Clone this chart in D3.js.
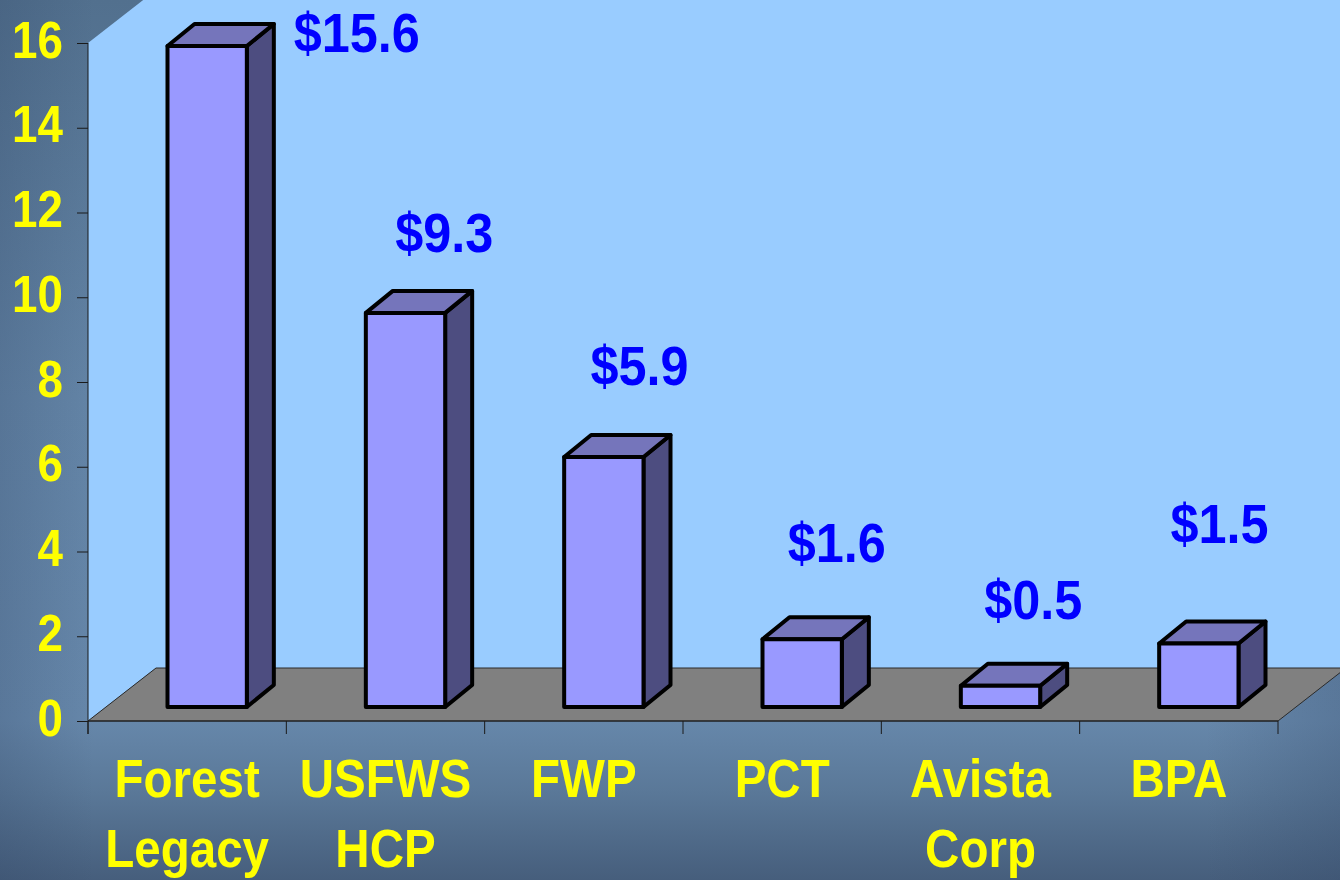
<!DOCTYPE html>
<html>
<head>
<meta charset="utf-8">
<script src="https://cdn.jsdelivr.net/npm/d3@7"></script>
<style>
  body { margin: 0; background: #5a7898; }
  svg { display: block; }
  text { font-family: "Liberation Sans", Arial, sans-serif; font-weight: bold; }
</style>
</head>
<body>
<svg id="chart" width="1340" height="880"></svg>
<script>
// chart data
const names = ["Forest Legacy", "USFWS HCP", "FWP", "PCT", "Avista Corp", "BPA"];
const amounts = [15.6, 9.3, 5.9, 1.6, 0.5, 1.5];
const amountLabels = ["$15.6", "$9.3", "$5.9", "$1.6", "$0.5", "$1.5"];
const yTicks = [0, 2, 4, 6, 8, 10, 12, 14, 16];

// label placement, px from the top-right front corner of each bar (set by hand in the original)
const labelOffsets = [[110, 6], [-1, -61], [-4, -72], [-5, -77], [-7, -67], [-19, -100]];

const svg = d3.select("#chart");
const width = +svg.attr("width");
const height = +svg.attr("height");

const x = d3.scaleBand().domain(names).range([88, 1278]).padding(0);
const y = d3.scaleLinear().domain([0, 16]).range([721, 43]);

const floorDepth = [68, -53];   // depth of the 3d floor / walls
const barShift = [20, -14];     // front of bars sits a little into the floor
const barDepth = [27, -22];
const barW = x.bandwidth() * 0.4;
const textSqueeze = 0.88;       // the original type is narrow

// background
const defs = svg.append("defs");
const vg = defs.append("linearGradient").attr("id", "bgV").attr("x1", 0).attr("y1", 0).attr("x2", 0).attr("y2", 1);
[[0, "#52708e"], [0.45, "#6384a6"], [0.82, "#6687aa"], [0.9, "#5a7898"], [1, "#465e7c"]]
  .forEach(([o, c]) => vg.append("stop").attr("offset", o).attr("stop-color", c));
const hg = defs.append("linearGradient").attr("id", "bgH").attr("x1", 0).attr("y1", 0).attr("x2", 1).attr("y2", 0);
[[0, 0.22], [0.07, 0], [0.9, 0], [1, 0.22]]
  .forEach(([o, a]) => hg.append("stop").attr("offset", o).attr("stop-color", "#2c4060").attr("stop-opacity", a));

svg.append("rect").attr("width", width).attr("height", height).attr("fill", "url(#bgV)");
svg.append("rect").attr("width", width).attr("height", height).attr("fill", "url(#bgH)");

// walls
const x0 = x.range()[0], x1 = x.range()[1];
const yTop = y(16), yBase = y(0);
const [fdx, fdy] = floorDepth;
const line = d3.line();

svg.append("path")
  .attr("d", line([[x0, yTop], [x0 + fdx, yTop + fdy], [x0 + fdx, yBase + fdy], [x0, yBase]]) + "Z")
  .attr("fill", "#99ccff");
svg.append("path")
  .attr("d", line([[x0 + fdx, yTop + fdy - 20], [x1 + fdx, yTop + fdy - 20], [x1 + fdx, yBase + fdy], [x0 + fdx, yBase + fdy]]) + "Z")
  .attr("fill", "#99ccff");

// floor
svg.append("path")
  .attr("d", line([[x0, yBase], [x1, yBase], [x1 + fdx, yBase + fdy], [x0 + fdx, yBase + fdy]]) + "Z")
  .attr("fill", "#808080")
  .attr("stroke", "#2a2a2a")
  .attr("stroke-width", 1);

// axes
const yAxis = svg.append("g").attr("transform", `translate(${x0},0)`)
  .call(d3.axisLeft(y).tickValues(yTicks).tickSize(11).tickFormat(""));
yAxis.select(".domain").attr("d", `M0,${yTop}V${yBase + 13}`);
yAxis.selectAll("line, path").attr("stroke", "#1a1a1a");

yAxis.selectAll(".tick").append("g")
  .attr("transform", `translate(-25,14) scale(${textSqueeze},1)`)
  .append("text")
  .attr("text-anchor", "end")
  .attr("fill", "#ffff00")
  .attr("font-size", 52)
  .text(d => d);

const xAxis = svg.append("g").attr("transform", `translate(0,${yBase})`);
xAxis.append("line").attr("x1", x0).attr("x2", x1).attr("stroke", "#1a1a1a");
xAxis.selectAll(".cut")
  .data(names.map(n => x(n)).concat([x1]))
  .join("line")
  .attr("x1", d => d).attr("x2", d => d)
  .attr("y1", 0).attr("y2", 13)
  .attr("stroke", "#1a1a1a");

const catLabels = xAxis.selectAll(".cat")
  .data(names)
  .join("g")
  .attr("transform", d => `translate(${x(d) + x.bandwidth() / 2},76) scale(${textSqueeze},1)`)
  .append("text")
  .attr("text-anchor", "middle")
  .attr("fill", "#ffff00")
  .attr("font-size", 54);
catLabels.selectAll("tspan")
  .data(d => d.split(" "))
  .join("tspan")
  .attr("x", 0)
  .attr("dy", (d, i) => (i === 0 ? 0 : 70))
  .text(d => d);

// bars
const bars = names.map((n, i) => {
  const left = x(n) + (x.bandwidth() - barW) / 2 + barShift[0];
  const right = left + barW;
  const top = y(amounts[i]) + barShift[1];
  const bottom = yBase + barShift[1];
  return { left, right, top, bottom, i };
});
const [bdx, bdy] = barDepth;

const barG = svg.append("g").selectAll("g").data(bars).join("g")
  .attr("stroke", "#000")
  .attr("stroke-width", 4)
  .attr("stroke-linejoin", "round");

barG.append("path")
  .attr("fill", "#4d4d80")
  .attr("d", b => line([[b.right, b.bottom], [b.right + bdx, b.bottom + bdy], [b.right + bdx, b.top + bdy], [b.right, b.top]]) + "Z");
barG.append("path")
  .attr("fill", "#7575bb")
  .attr("d", b => line([[b.left, b.top], [b.left + bdx, b.top + bdy], [b.right + bdx, b.top + bdy], [b.right, b.top]]) + "Z");
barG.append("rect")
  .attr("fill", "#9999ff")
  .attr("x", b => b.left)
  .attr("y", b => b.top)
  .attr("width", barW)
  .attr("height", b => b.bottom - b.top);

// value labels
svg.append("g").selectAll("g").data(bars).join("g")
  .attr("transform", b => `translate(${b.right + labelOffsets[b.i][0]},${b.top + labelOffsets[b.i][1]}) scale(0.9,1)`)
  .append("text")
  .attr("text-anchor", "middle")
  .attr("fill", "#0000ff")
  .attr("font-size", 56)
  .text(b => amountLabels[b.i]);
</script>
</body>
</html>
